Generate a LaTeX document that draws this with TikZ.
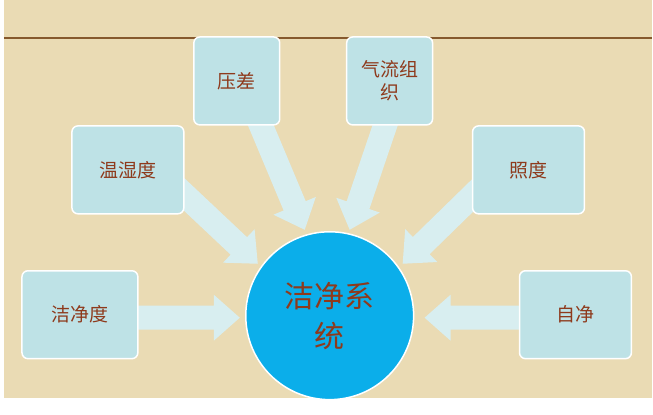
\documentclass[tikz,border=0pt]{standalone}
\usepackage{fontspec}
\newfontfamily\cjk{Noto Sans CJK SC}
\usetikzlibrary{arrows.meta,calc}
\definecolor{bg}{HTML}{EADBB4}
\definecolor{boxc}{HTML}{BEE2E6}
\definecolor{arr}{HTML}{D8EEF0}
\definecolor{txt}{HTML}{8E3A1C}
\definecolor{circ}{HTML}{0BAEEA}
\tikzset{
 box/.style={draw=white,line width=1.5pt,fill=boxc,rounded corners=6pt,minimum width=#1,minimum height=88pt,font=\cjk\fontsize{19}{23}\selectfont,text=txt,align=center,inner sep=2pt},
 fat/.style={draw=none,fill=arr,line width=0pt},
}
\newcommand{\fatarrow}[2]{%
 \path let \p1=($(#2)-(#1)$), \n1={atan2(\y1,\x1)}, \n2={veclen(\x1,\y1)} in
  [fat,shift={(#1)},rotate=\n1] (0,-12pt) -- (\n2-26pt,-12pt) -- (\n2-26pt,-23pt) -- (\n2,0) -- (\n2-26pt,23pt) -- (\n2-26pt,12pt) -- (0,12pt) -- cycle;}
\begin{document}
\begin{tikzpicture}[x=1pt,y=-1pt]
\fill[white] (0,0) rectangle (653,415);
\fill[bg] (4,0) rectangle (653,398);
\draw[draw=brown!70!black,line width=1.2pt] (4,38) -- (653,38);
\coordinate (a1) at (130,318); \coordinate (b1) at (240,318);
\coordinate (a2) at (525,318); \coordinate (b2) at (425,318);
\coordinate (a3) at (172,183); \coordinate (b3) at (258,264);
\coordinate (a4) at (486,183); \coordinate (b4) at (403,264);
\coordinate (a5) at (258,118); \coordinate (b5) at (305,230);
\coordinate (a6) at (388,118); \coordinate (b6) at (350,230);
\fatarrow{a1}{b1}\fatarrow{a2}{b2}\fatarrow{a3}{b3}
\fatarrow{a4}{b4}\fatarrow{a5}{b5}\fatarrow{a6}{b6}
\node[box=86pt] (yc) at (237,81) {压差};
\node[box=86pt] (ql) at (390,81) {气流组\\织};
\node[box=112pt] (wsd) at (128,170) {温湿度};
\node[box=112pt] (zd) at (529,170) {照度};
\node[box=116pt] (jjd) at (80,315) {洁净度};
\node[box=112pt] (zj) at (576,315) {自净};
\node[circle,fill=circ,draw=white,line width=1.5pt,minimum size=168pt,font=\cjk\fontsize{30}{40}\selectfont,text=txt,align=center] (c) at (330,316) {洁净系\\统};
\end{tikzpicture}
\end{document}
